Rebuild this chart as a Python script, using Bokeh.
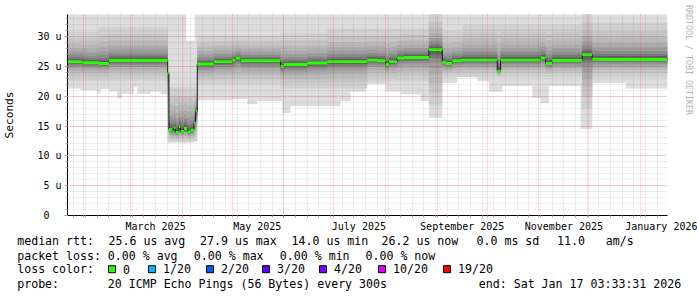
import math
from datetime import datetime, timedelta
import numpy as np
from bokeh.plotting import figure
from bokeh.layouts import column
from bokeh.models import FixedTicker, Arrow, Range1d, LinearAxis, PolyAnnotation
from bokeh.core.properties import value
from bokeh.embed import file_html
from bokeh.resources import INLINE

END = datetime(2026, 1, 17, 3, 33, 31)
SPAN_DAYS = 360
START = END - timedelta(days=SPAN_DAYS)

# ---------------- data (RTT in microseconds) ----------------
median_dates = ["2025-01-22", "2025-01-31", "2025-02-10", "2025-02-16", "2025-03-23T06:00",
                "2025-03-24", "2025-03-26", "2025-03-27", "2025-03-28", "2025-03-30", "2025-03-31",
                "2025-04-02", "2025-04-04", "2025-04-06", "2025-04-08", "2025-04-09", "2025-04-10",
                "2025-04-20", "2025-05-01", "2025-05-03", "2025-05-06", "2025-05-30", "2025-06-01",
                "2025-06-15", "2025-06-27", "2025-07-21", "2025-07-27", "2025-08-01", "2025-08-03",
                "2025-08-08", "2025-08-12", "2025-08-27", "2025-09-04", "2025-09-06", "2025-09-10",
                "2025-09-16", "2025-10-07", "2025-10-09", "2025-11-02", "2025-11-05", "2025-11-09",
                "2025-11-27", "2025-12-03", "2025-12-06"]
median_us = [25.8, 25.6, 25.5, 26.0, 23.9,
             14.4, 14.0, 14.7, 13.9, 14.9, 14.1,
             14.6, 14.0, 14.3, 15.5, 17.5, 25.4,
             25.8, 26.05, 26.4, 25.95, 25.0, 25.3,
             25.55, 25.8, 26.05, 25.95, 25.3, 25.8,
             26.4, 26.5, 27.8, 25.7, 25.5, 25.95,
             26.05, 24.2, 26.05, 26.4, 25.5, 26.0,
             26.95, 26.2, 26.17]

# lowest ping (bottom of the light smoke)
min_dates = ["2025-01-22", "2025-01-30", "2025-02-09", "2025-02-11", "2025-02-16", "2025-02-21",
             "2025-02-24", "2025-03-03", "2025-03-05", "2025-03-13", "2025-03-19", "2025-03-23T06:00",
             "2025-04-08", "2025-04-10", "2025-05-01", "2025-05-10", "2025-05-16", "2025-05-31",
             "2025-06-05", "2025-07-05", "2025-07-11", "2025-07-20", "2025-08-01", "2025-08-10",
             "2025-08-22", "2025-08-27", "2025-09-04", "2025-09-13", "2025-09-25", "2025-10-02",
             "2025-10-10", "2025-10-28", "2025-11-02", "2025-11-07", "2025-11-26", "2025-12-03",
             "2025-12-23"]
min_us = [21.3, 21.0, 20.5, 21.2, 20.8, 19.6,
          20.4, 21.5, 20.4, 20.8, 20.3, 12.2,
          13.0, 19.3, 19.5, 18.7, 19.2, 17.2,
          18.3, 19.2, 20.8, 22.0, 20.8, 20.3,
          19.2, 16.4, 22.2, 23.3, 22.5, 20.8,
          21.7, 19.7, 18.8, 21.7, 14.5, 22.2,
          21.3]

# lower limit of the darker smoke below the median
lowsmoke_dates = ["2025-01-22", "2025-03-23T06:00", "2025-04-10", "2025-05-30", "2025-07-21",
                  "2025-08-27", "2025-09-04", "2025-11-27", "2025-12-03"]
lowsmoke_us = [22.6, 12.4, 22.0, 21.3, 22.5, 18.5, 23.2, 18.0, 23.2]

# upper limit of the darker smoke above the median
highsmoke_dates = ["2025-01-22", "2025-02-10", "2025-03-23T06:00", "2025-04-10", "2025-05-30",
                   "2025-06-27", "2025-08-27", "2025-09-04", "2025-09-16", "2025-11-27", "2025-12-03"]
highsmoke_us = [30.8, 31.6, 21.5, 30.2, 30.6, 31.3, 33.8, 31.0, 32.0, 33.8, 32.3]

# highest ping (top of the light smoke, mostly above the chart)
max_dates = ["2025-01-22", "2025-04-03T12:00", "2025-04-08T12:00"]
max_us = [34.5, 29.3, 34.5]

x_label_dates = ["2025-03-16", "2025-05-16", "2025-07-16", "2025-09-16", "2025-11-16", "2026-01-16"]
x_labels = ["March 2025", "May 2025", "July 2025", "September 2025", "November 2025", "January 2026"]
y_ticks = [0, 5, 10, 15, 20, 25, 30]
y_labels = ["0\u00a0\u00a0", "5 u", "10 u", "15 u", "20 u", "25 u", "30 u"]
y_max = 33.7

rtt_stats = ["25.6 us avg", "27.9 us max", "14.0 us min", "26.2 us now", "0.0 ms sd", "11.0   am/s"]
loss_stats = ["0.00 % avg", "0.00 % max", "0.00 % min", "0.00 % now"]
loss_labels = ["0", "1/20", "2/20", "3/20", "4/20", "10/20", "19/20"]
loss_colors = ["#26ff00", "#00b8ff", "#0059ff", "#5e00ff", "#7e00ff", "#dd00ff", "#ff0000"]
probe_text = "20 ICMP Echo Pings (56 Bytes) every 300s"
end_text = "end: Sat Jan 17 03:33:31 2026"
watermark = "RRDTOOL / TOBI OETIKER"

# ---------------- helpers ----------------
def day(s):
    return (datetime.fromisoformat(s) - START).total_seconds() / 86400.0

def step_eval(dates, vals, at):
    xs = np.array([day(d) for d in dates])
    idx = np.searchsorted(xs, at, side="right") - 1
    return np.array(vals, dtype=float)[np.clip(idx, 0, None)]

breaks = sorted(set([day(d) for d in median_dates + min_dates + lowsmoke_dates
                     + highsmoke_dates + max_dates] + [SPAN_DAYS]))
starts = np.array(breaks[:-1])
ends = np.array(breaks[1:])
med = step_eval(median_dates, median_us, starts)
lo = step_eval(min_dates, min_us, starts)
lo_in = step_eval(lowsmoke_dates, lowsmoke_us, starts)
up_in = step_eval(highsmoke_dates, highsmoke_us, starts)
hi = step_eval(max_dates, max_us, starts)

xs_st = np.column_stack([starts, ends]).ravel()
def stair(v):
    return np.repeat(v, 2)

def keep_spaces(s):
    # SVG collapses runs of blanks: use no-break spaces so monospace columns survive
    return s.replace(" ", "\u00a0")

FONT = "DejaVu Sans Mono"
W, H = 697, 297
FL, FR, FT, FB = 66, 667, 14, 215   # frame edges in page pixels
MAIN_H = 234
p = figure(width=W, height=MAIN_H, x_range=Range1d(0, SPAN_DAYS), y_range=Range1d(0, y_max),
           output_backend="svg", toolbar_location=None,
           min_border_left=FL, min_border_right=W - FR, min_border_top=FT,
           min_border_bottom=MAIN_H - FB)
p.outline_line_color = None
p.background_fill_color = "white"
p.border_fill_color = "white"

# smoke: lightest band from min to max, then darker nested bands toward the median
p.varea(x=xs_st, y1=stair(lo), y2=stair(hi), fill_color="#dddddd")
shades = [(1.0, "#d0d0d0"), (0.78, "#c5c5c5"), (0.6, "#b9b9b9"), (0.45, "#acacac"),
          (0.33, "#9d9d9d"), (0.23, "#8c8c8c"), (0.15, "#787878"), (0.09, "#626262"),
          (0.04, "#4a4a4a")]
for f, col in shades:
    y1 = med - f * (med - lo_in)
    y2 = med + f * (up_in - med)
    p.varea(x=xs_st, y1=stair(y1), y2=stair(y2), fill_color=col)

# median
p.line(x=xs_st, y=stair(med), line_color="#141414", line_width=1)
p.varea(x=xs_st, y1=stair(med - 0.25), y2=stair(med + 0.25), fill_color=loss_colors[0])

# grids / ticks
month_starts = []
y, m = 2025, 2
while datetime(y, m, 1) < END:
    month_starts.append(day(f"{y}-{m:02d}-01"))
    m += 1
    if m > 12:
        y, m = y + 1, 1
sundays = []
d = START.date() + timedelta(days=1)
while datetime.combine(d, datetime.min.time()) < END:
    if d.weekday() == 6:
        sundays.append(day(d.isoformat()))
    d += timedelta(days=1)

x_label_pos = [day(s) for s in x_label_dates]

xg = p.xgrid[0]
xg.ticker = FixedTicker(ticks=month_starts, minor_ticks=sundays)
yg = p.ygrid[0]
yg.ticker = FixedTicker(ticks=y_ticks, minor_ticks=list(range(0, 34)))
for g in (xg, yg):
    g.level = "guide"
    g.grid_line_color = "#ff0000"
    g.grid_line_alpha = 0.28
    g.grid_line_dash = "1 1"
    g.minor_grid_line_color = "#808080"
    g.minor_grid_line_alpha = 0.28
    g.minor_grid_line_dash = "1 1"

xa = p.xaxis[0]
xa.ticker = FixedTicker(ticks=x_label_pos, minor_ticks=month_starts + sundays)
xa.major_label_overrides = {v: t for v, t in zip(x_label_pos, x_labels)}
xa.major_tick_out = 0
xa.major_tick_in = 0
xa.minor_tick_out = 2
xa.minor_tick_in = 0
xa.minor_tick_line_color = "#d09090"
xa.major_label_standoff = 3
ya = p.yaxis[0]
ya.ticker = FixedTicker(ticks=y_ticks, minor_ticks=list(range(0, 34)))
ya.major_label_overrides = {v: t for v, t in zip(y_ticks, y_labels)}
ya.major_tick_out = 3
ya.major_tick_in = 0
ya.minor_tick_out = 2
ya.minor_tick_in = 0
ya.major_tick_line_color = "#e08080"
ya.minor_tick_line_color = "#b0b0b0"
ya.major_label_standoff = 3
ya.axis_label = "Seconds"
ya.axis_label_text_font = FONT
ya.axis_label_text_font_size = "11.2px"
ya.axis_label_text_font_style = "normal"
ya.axis_label_text_color = "black"
ya.axis_label_standoff = 18
for a in (xa, ya):
    a.axis_line_color = "black"
    a.major_label_text_font = FONT
    a.major_label_text_font_size = "10px"
    a.major_label_text_color = "black"

# watermark on the right, top-aligned (padded with no-break spaces)
ra = LinearAxis(ticker=FixedTicker(ticks=[]), axis_line_color=None,
                major_tick_line_color=None, minor_tick_line_color=None,
                axis_label=keep_spaces(watermark) + "\u00a0" * 22, axis_label_text_font=FONT,
                axis_label_text_font_size="8.3px", axis_label_text_font_style="normal",
                axis_label_text_color="#b4b4b4", axis_label_standoff=16)
p.add_layout(ra, "right")

# ---------------- page-pixel -> data conversion for the axis arrows ----------------
def dx(cx):
    return (cx - FL) / (FR - FL) * SPAN_DAYS
def dy(cy):
    return (FB - cy) / (FB - FT) * y_max

p.add_layout(Arrow(end=None, x_start=dx(FR), y_start=0, x_end=dx(670), y_end=0,
                   line_color="black", line_width=1))
p.add_layout(Arrow(end=None, x_start=0, y_start=dy(FT), x_end=0, y_end=dy(10),
                   line_color="black", line_width=1))
ARROW_RED = "#9a1c1c"
p.add_layout(PolyAnnotation(xs=[dx(668), dx(668), dx(674)], ys=[dy(212), dy(218), dy(215)],
                            fill_color=ARROW_RED, fill_alpha=1.0, line_color=ARROW_RED,
                            line_alpha=1.0, line_width=1))
p.add_layout(PolyAnnotation(xs=[dx(63), dx(69), dx(66)], ys=[dy(13), dy(13), dy(7)],
                            fill_color=ARROW_RED, fill_alpha=1.0, line_color=ARROW_RED,
                            line_alpha=1.0, line_width=1))

# ---------------- legend strip (page pixel coordinates) ----------------
q = figure(width=W, height=H - MAIN_H, x_range=Range1d(0, W), y_range=Range1d(H, MAIN_H),
           output_backend="svg", toolbar_location=None, x_axis_type=None, y_axis_type=None,
           min_border=0)
q.outline_line_color = None
q.grid.visible = False
q.background_fill_color = "white"
q.border_fill_color = "white"
for fig in (p, q):
    try:
        fig.frame_align = False
    except AttributeError:
        pass

row_y = [240.7, 255.0, 268.7, 283.2]
tx, ty, tt = [], [], []
def put(cx, cy, s):
    tx.append(cx); ty.append(cy); tt.append(keep_spaces(s))

put(16.7, row_y[0], "median rtt:")
for cx, s in zip([108.0, 199.5, 291.0, 381.0, 476.0, 556.5], rtt_stats):
    put(cx, row_y[0], s)
put(16.7, row_y[1], "packet loss:")
for cx, s in zip([107.3, 193.3, 279.3, 365.0], loss_stats):
    put(cx, row_y[1], s)
put(16.7, row_y[2], "loss color:")
box_x = [108, 148, 206, 262, 319, 378, 443]
for bx, lab in zip(box_x, loss_labels):
    put(bx + 14.5, row_y[2], lab)
put(16.7, row_y[3], "probe:")
put(107.3, row_y[3], probe_text)
put(478.3, row_y[3], end_text)

q.text(x=tx, y=ty, text=tt, text_font=value(FONT), text_font_size="11.6px",
       text_color="black", text_align="left", text_baseline="middle")
q.quad(left=[b for b in box_x], right=[b + 7 for b in box_x],
       top=[row_y[2] - 3.5] * len(box_x), bottom=[row_y[2] + 3.5] * len(box_x),
       fill_color=loss_colors, line_color="black", line_width=1)

open("out.html", "w").write(file_html(column(p, q, spacing=0), INLINE))
